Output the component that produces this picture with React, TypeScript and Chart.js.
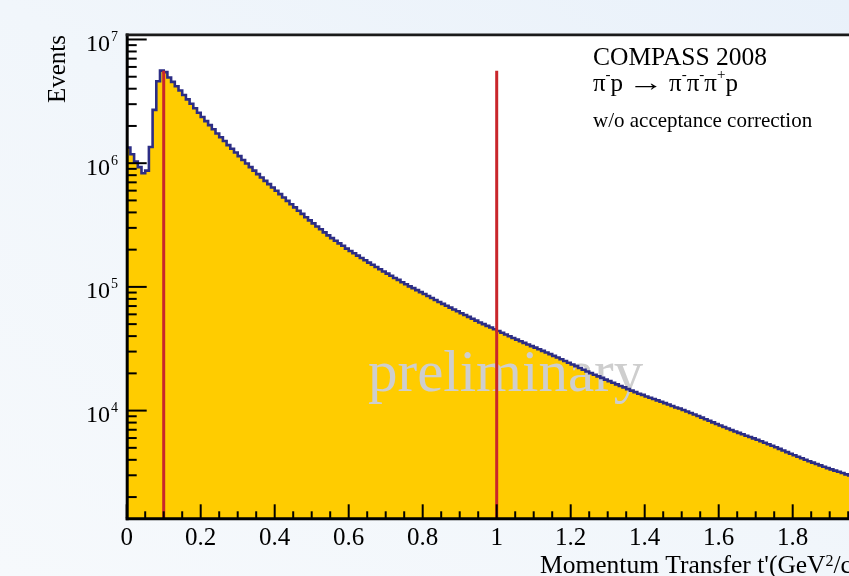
import React, { useEffect, useRef } from "react";
import { Chart, registerables } from "chart.js";

Chart.register(...registerables);

// Histogram binning of t' (GeV^2/c^2)
const BIN_WIDTH = 0.01;
const T_MIN = 0;
const T_MAX = 2;

// Events per bin, bin i covers [i*BIN_WIDTH, (i+1)*BIN_WIDTH)
const eventCounts = [
  1.34e6, 1.18e6, 1.03e6, 9.3e5, 8.3e5, 8.7e5, 1.35e6, 2.7e6, 4.6e6, 5.6e6,
  5.45e6, 4.93e6, 4.54e6, 4.19e6, 3.87e6, 3.56e6, 3.28e6, 3.02e6, 2.78e6, 2.56e6,
  2.36e6, 2.19e6, 2.03e6, 1.88e6, 1.74e6, 1.62e6, 1.51e6, 1.4e6, 1.31e6, 1.22e6,
  1.14e6, 1.06e6, 9.94e5, 9.3e5, 8.7e5, 8.16e5, 7.66e5, 7.2e5, 6.77e5, 6.36e5,
  5.98e5, 5.62e5, 5.28e5, 4.96e5, 4.66e5, 4.39e5, 4.13e5, 3.89e5, 3.66e5, 3.45e5,
  3.26e5, 3.08e5, 2.92e5, 2.76e5, 2.61e5, 2.48e5, 2.36e5, 2.25e5, 2.15e5, 2.04e5,
  1.95e5, 1.87e5, 1.79e5, 1.71e5, 1.64e5, 1.57e5, 1.51e5, 1.45e5, 1.39e5, 1.33e5,
  1.28e5, 1.23e5, 1.18e5, 1.14e5, 1.09e5, 1.05e5, 1.01e5, 9.77e4, 9.42e4, 9.08e4,
  8.75e4, 8.43e4, 8.13e4, 7.83e4, 7.55e4, 7.29e4, 7.04e4, 6.8e4, 6.57e4, 6.35e4,
  6.13e4, 5.92e4, 5.72e4, 5.53e4, 5.34e4, 5.16e4, 5.0e4, 4.84e4, 4.69e4, 4.54e4,
  4.4e4, 4.26e4, 4.12e4, 3.99e4, 3.86e4, 3.75e4, 3.64e4, 3.53e4, 3.42e4, 3.32e4,
  3.23e4, 3.13e4, 3.04e4, 2.95e4, 2.86e4, 2.77e4, 2.69e4, 2.6e4, 2.52e4, 2.44e4,
  2.36e4, 2.29e4, 2.21e4, 2.14e4, 2.07e4, 2.01e4, 1.95e4, 1.89e4, 1.84e4, 1.78e4,
  1.73e4, 1.68e4, 1.63e4, 1.58e4, 1.54e4, 1.49e4, 1.45e4, 1.41e4, 1.37e4, 1.34e4,
  1.3e4, 1.27e4, 1.24e4, 1.21e4, 1.18e4, 1.15e4, 1.12e4, 1.09e4, 1.06e4, 1.04e4,
  1.01e4, 9.82e3, 9.55e3, 9.29e3, 9.04e3, 8.78e3, 8.52e3, 8.27e3, 8.03e3, 7.79e3,
  7.57e3, 7.36e3, 7.16e3, 6.97e3, 6.78e3, 6.6e3, 6.44e3, 6.27e3, 6.12e3, 5.96e3,
  5.81e3, 5.65e3, 5.5e3, 5.35e3, 5.2e3, 5.05e3, 4.9e3, 4.76e3, 4.62e3, 4.48e3,
  4.36e3, 4.24e3, 4.12e3, 4.01e3, 3.9e3, 3.8e3, 3.7e3, 3.61e3, 3.52e3, 3.43e3,
  3.35e3, 3.27e3, 3.2e3, 3.13e3, 3.05e3, 2.99e3, 2.92e3, 2.85e3, 2.79e3, 2.72e3,
];

// Vertical cut markers at t' = 0.1 and 1.0
const cutPositions = [0.1, 1.0];
const cutTop = 5.6e6;

// Axis ranges
const Y_MIN = 1347;
const Y_MAX = 1.077e7;

// Tick labels
const xTickValues = [0, 0.2, 0.4, 0.6, 0.8, 1, 1.2, 1.4, 1.6, 1.8, 2];
const xTickLabels = ["0", "0.2", "0.4", "0.6", "0.8", "1", "1.2", "1.4", "1.6", "1.8", "2"];
const yDecades = [4, 5, 6, 7];

const FONT = '"Liberation Serif", "Times New Roman", serif';
const FILL_INDEX = cutPositions.length + 1;

type Part = { t: string; size: number; dy?: number; w?: number; gap?: number };

// Draws a run of text pieces left to right; "w" forces a piece to a given width.
function drawParts(ctx: CanvasRenderingContext2D, parts: Part[], x: number, baseline: number) {
  let cx = x;
  for (const p of parts) {
    ctx.font = `${p.size}px ${FONT}`;
    const natural = ctx.measureText(p.t).width;
    if (p.w) {
      ctx.save();
      ctx.translate(cx, baseline + (p.dy || 0));
      ctx.scale(p.w / natural, 1);
      ctx.fillText(p.t, 0, 0);
      ctx.restore();
      cx += p.w;
    } else {
      ctx.fillText(p.t, cx, baseline + (p.dy || 0));
      cx += natural;
    }
    cx += p.gap || 0;
  }
}

const rootStyle = {
  id: "rootStyle",
  beforeDraw(chart: any) {
    const { ctx, chartArea: a } = chart;
    ctx.save();
    ctx.fillStyle = "#ffffff";
    ctx.fillRect(a.left, a.top, a.right - a.left, a.bottom - a.top);
    ctx.restore();
  },
  afterDatasetDraw(chart: any, args: any) {
    if (args.index !== FILL_INDEX) return;
    const { ctx, chartArea: a } = chart;
    ctx.save();
    ctx.beginPath();
    ctx.rect(a.left, a.top, a.right - a.left, a.bottom - a.top);
    ctx.clip();
    ctx.font = `59px ${FONT}`;
    ctx.fillStyle = "#cecece";
    ctx.textAlign = "left";
    ctx.textBaseline = "alphabetic";
    ctx.fillText("preliminary", 368, 391);
    ctx.restore();
  },
  afterDraw(chart: any) {
    const { ctx, chartArea: a } = chart;
    const xs = chart.scales.x;
    const ys = chart.scales.y;
    ctx.save();
    ctx.strokeStyle = "#000000";
    ctx.fillStyle = "#000000";
    ctx.lineCap = "butt";

    // y ticks (inside, pointing right)
    ctx.lineWidth = 2;
    for (let d = 3; d <= 7; d++) {
      for (let m = 1; m <= 9; m++) {
        const v = m * Math.pow(10, d);
        if (v < Y_MIN || v > Y_MAX) continue;
        const py = ys.getPixelForValue(v);
        const len = m === 1 ? 20 : 10;
        ctx.beginPath();
        ctx.moveTo(a.left, py);
        ctx.lineTo(a.left + len, py);
        ctx.stroke();
      }
    }
    // x ticks (inside, pointing up)
    for (let i = 0; i <= 40; i++) {
      const v = i * 0.05;
      const px = xs.getPixelForValue(v);
      const len = i % 4 === 0 ? 14 : 7;
      ctx.beginPath();
      ctx.moveTo(px, a.bottom);
      ctx.lineTo(px, a.bottom - len);
      ctx.stroke();
    }

    // axis lines and frame top
    ctx.lineWidth = 3;
    ctx.beginPath();
    ctx.moveTo(a.left + 0.5, a.top - 2);
    ctx.lineTo(a.left + 0.5, a.bottom + 2);
    ctx.stroke();
    ctx.beginPath();
    ctx.moveTo(a.left - 1, a.bottom + 0.5);
    ctx.lineTo(a.right, a.bottom + 0.5);
    ctx.stroke();
    ctx.lineWidth = 2.6;
    ctx.strokeStyle = "#1a1a1a";
    ctx.beginPath();
    ctx.moveTo(a.left - 1, a.top - 0.6);
    ctx.lineTo(a.right, a.top - 0.6);
    ctx.stroke();

    // x tick labels
    ctx.fillStyle = "#000000";
    ctx.font = `25px ${FONT}`;
    ctx.textAlign = "center";
    ctx.textBaseline = "alphabetic";
    xTickValues.forEach((v, i) => {
      ctx.fillText(xTickLabels[i], xs.getPixelForValue(v), 545);
    });

    // y tick labels 10^n
    yDecades.forEach((d) => {
      const py = ys.getPixelForValue(Math.pow(10, d));
      ctx.font = `24px ${FONT}`;
      ctx.textAlign = "right";
      ctx.fillText("10", 110, py + 11.5);
      ctx.font = `14px ${FONT}`;
      ctx.textAlign = "left";
      ctx.fillText(String(d), 111, py + 1.5);
    });

    // axis titles
    ctx.textAlign = "left";
    drawParts(
      ctx,
      [
        { t: "Momentum Transfer t'(GeV", size: 25.5 },
        { t: "2", size: 16, dy: -7 },
        { t: "/c", size: 25.5 },
        { t: "2", size: 16, dy: -7 },
        { t: ")", size: 25.5 },
      ],
      540,
      573
    );
    ctx.save();
    ctx.translate(65, 35);
    ctx.rotate(-Math.PI / 2);
    ctx.font = `25px ${FONT}`;
    ctx.textAlign = "right";
    ctx.fillText("Events", 0, 0);
    ctx.restore();

    // annotation block
    ctx.textAlign = "left";
    ctx.font = `25.5px ${FONT}`;
    ctx.fillText("COMPASS 2008", 593, 65);
    drawParts(
      ctx,
      [
        { t: "\u03c0", size: 25 },
        { t: "-", size: 15, dy: -12 },
        { t: "p", size: 25, gap: 5 },
        { t: "\u2192", size: 25, w: 36, gap: 5 },
        { t: "\u03c0", size: 25 },
        { t: "-", size: 15, dy: -12 },
        { t: "\u03c0", size: 25 },
        { t: "-", size: 15, dy: -12 },
        { t: "\u03c0", size: 25 },
        { t: "+", size: 15, dy: -12 },
        { t: "p", size: 25 },
      ],
      593,
      91
    );
    ctx.font = `21px ${FONT}`;
    ctx.fillText("w/o acceptance correction", 593, 127);
    ctx.restore();
  },
};

export default function App() {
  const canvasRef = useRef<HTMLCanvasElement>(null);

  useEffect(() => {
    const canvas = canvasRef.current;
    if (!canvas) return;

    const histogram = eventCounts.map((v, i) => ({ x: T_MIN + i * BIN_WIDTH, y: v }));
    histogram.push({ x: T_MIN + eventCounts.length * BIN_WIDTH, y: eventCounts[eventCounts.length - 1] });

    const cutSets = cutPositions.map((t) => ({
      data: [
        { x: t, y: Y_MIN },
        { x: t, y: cutTop },
      ],
      borderColor: "#c9262b",
      borderWidth: 3,
      pointRadius: 0,
      fill: false,
    }));

    const chart = new Chart(canvas, {
      type: "line",
      data: {
        datasets: [
          ...cutSets,
          {
            data: histogram,
            stepped: "before",
            borderColor: "#2c2d85",
            borderWidth: 2.6,
            pointRadius: 0,
            fill: false,
          },
          {
            data: histogram,
            stepped: "before",
            borderColor: "rgba(0,0,0,0)",
            borderWidth: 1,
            backgroundColor: "#ffcc00",
            pointRadius: 0,
            fill: "start",
          },
        ],
      } as any,
      options: {
        animation: false,
        responsive: false,
        devicePixelRatio: 1,
        events: [],
        layout: { padding: { left: 126.7, top: 35.5, right: 33.3, bottom: 57.7 } },
        scales: {
          x: { type: "linear", min: T_MIN, max: T_MAX, display: false },
          y: { type: "logarithmic", min: Y_MIN, max: Y_MAX, display: false },
        },
        plugins: {
          legend: { display: false },
          tooltip: { enabled: false },
        },
      } as any,
      plugins: [rootStyle as any],
    });

    return () => chart.destroy();
  }, []);

  return (
    <div
      style={{
        position: "fixed",
        left: 0,
        top: 0,
        width: 849,
        height: 576,
        overflow: "hidden",
        background: "linear-gradient(to bottom left, #e9f1fa 0%, #f1f6fb 50%, #f6f9fc 100%)",
      }}
    >
      <canvas ref={canvasRef} width={900} height={576} style={{ display: "block", width: 900, height: 576 }} />
    </div>
  );
}
